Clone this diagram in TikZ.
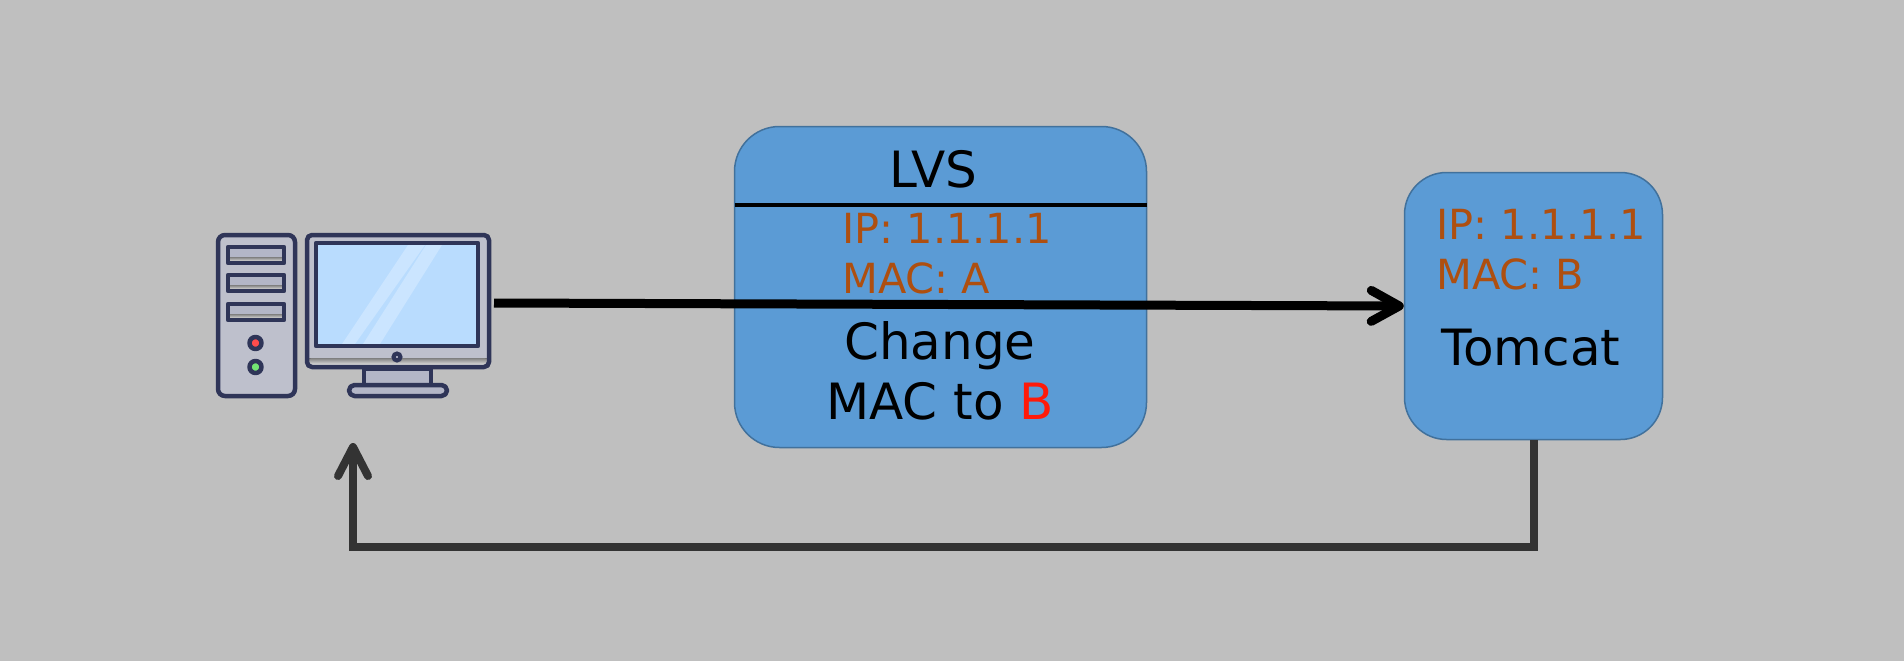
\documentclass[tikz,border=0pt]{standalone}
\usepackage{fontspec}
\setmainfont{DejaVu Sans}
\usetikzlibrary{arrows.meta}
\definecolor{bg}{HTML}{BFBFBF}
\definecolor{boxfill}{HTML}{5B9BD5}
\definecolor{boxedge}{HTML}{41719C}
\definecolor{addr}{HTML}{AE4F10}
\definecolor{redB}{HTML}{FF1A0A}
\definecolor{ink}{HTML}{2F3558}
\definecolor{case}{HTML}{BEC0CC}
\definecolor{slot}{HTML}{B3B6C7}
\definecolor{shade}{HTML}{A3A6BA}
\definecolor{screen}{HTML}{B9DCFE}
\definecolor{glare}{HTML}{CBE5FF}
\tikzset{
  x=1pt,y=-1pt,
  server/.style={draw=boxedge,line width=1.5pt,fill=boxfill,inner sep=0pt,minimum width=#1},
  bigtxt/.style={anchor=base west,inner sep=0pt,font=\fontsize{50}{50}\selectfont,text=black},
  addrtxt/.style={anchor=base west,inner sep=0pt,font=\fontsize{41.5}{41.5}\selectfont,text=addr},
  outgoing/.style={line width=9pt,black,-{Straight Barb[length=28pt,width=31pt,round]}},
  reply/.style={line width=8pt,color=black!80,miter limit=10,-{Straight Barb[length=29pt,width=30pt,round]}},
  pcline/.style={draw=ink,line width=4.5pt,line join=round},
}
\begin{document}
\begin{tikzpicture}
\fill[bg] (0,0) rectangle (1904,661);
\useasboundingbox (0,0) rectangle (1904,661);

% servers
\node[server=412pt,minimum height=321pt,rounded corners=45pt] (lvs) at (940.5,287) {};
\node[server=258pt,minimum height=267pt,rounded corners=42pt] (tomcat) at (1533.5,306) {};
\draw[line width=4pt,black] (lvs.west |- 0,205) ++(1,0) coordinate (divl) -- (lvs.east |- divl) coordinate (divr);

% texts
\node[bigtxt] (tlvs) at (889,187) {LVS};
\node[addrtxt] (tip1) at (842,243) {IP: 1.1.1.1};
\node[addrtxt] (tmac1) at (842,293) {MAC: A};
\node[bigtxt] (tchange) at (844,359) {Change};
\node[bigtxt] (tmacto) at (826,419) {MAC to \textcolor{redB}{B}};
\node[addrtxt] (tip2) at (1436,239) {IP: 1.1.1.1};
\node[addrtxt] (tmac2) at (1436,289) {MAC: B};
\node[bigtxt] (ttomcat) at (1441,365) {Tomcat};

% computer: tower
\draw[pcline,fill=case,rounded corners=7pt] (218,235) rectangle (295,396);
\foreach \yt in {247,275,304}{
  \fill[slot] (228,\yt) rectangle (284,\yt+16);
  \fill[shade] (228,\yt+10) rectangle (284,\yt+16);
  \draw[pcline] (228,\yt) rectangle (284,\yt+16);
}
\draw[pcline,fill=red!70!white] (255.5,343) circle (6);
\draw[pcline,fill=green!50!white!90!black] (255.5,367) circle (6);

% computer: monitor
\fill[case,rounded corners=5pt] (307,235) rectangle (489,367);
\fill[shade,rounded corners=3pt] (308,358) rectangle (488,367);
\draw[pcline,rounded corners=5pt] (307,235) rectangle (489,367);
\fill[screen] (316,243) rectangle (478,346);
\fill[glare] (342,344) -- (355,344) -- (425,245) -- (408,245) -- cycle;
\fill[glare] (363,344) -- (380,344) -- (442,245) -- (426,245) -- cycle;
\draw[pcline] (316,243) rectangle (478,346);
\draw[draw=ink,line width=4pt,fill=shade] (397,357) circle (3.5);
\draw[pcline,fill=slot] (364,369) rectangle (431,385);
\draw[pcline,fill=slot,rounded corners=5.5pt] (349,385) rectangle (447,396);

% connectors
\coordinate (pcout) at (494,303);
\coordinate (pcin) at (353,443);
\coordinate (turn) at (353,547);
\draw[outgoing] (pcout) -- (tomcat.west);
\draw[reply] (tomcat.south) |- (turn) -- (pcin);
\end{tikzpicture}
\end{document}
